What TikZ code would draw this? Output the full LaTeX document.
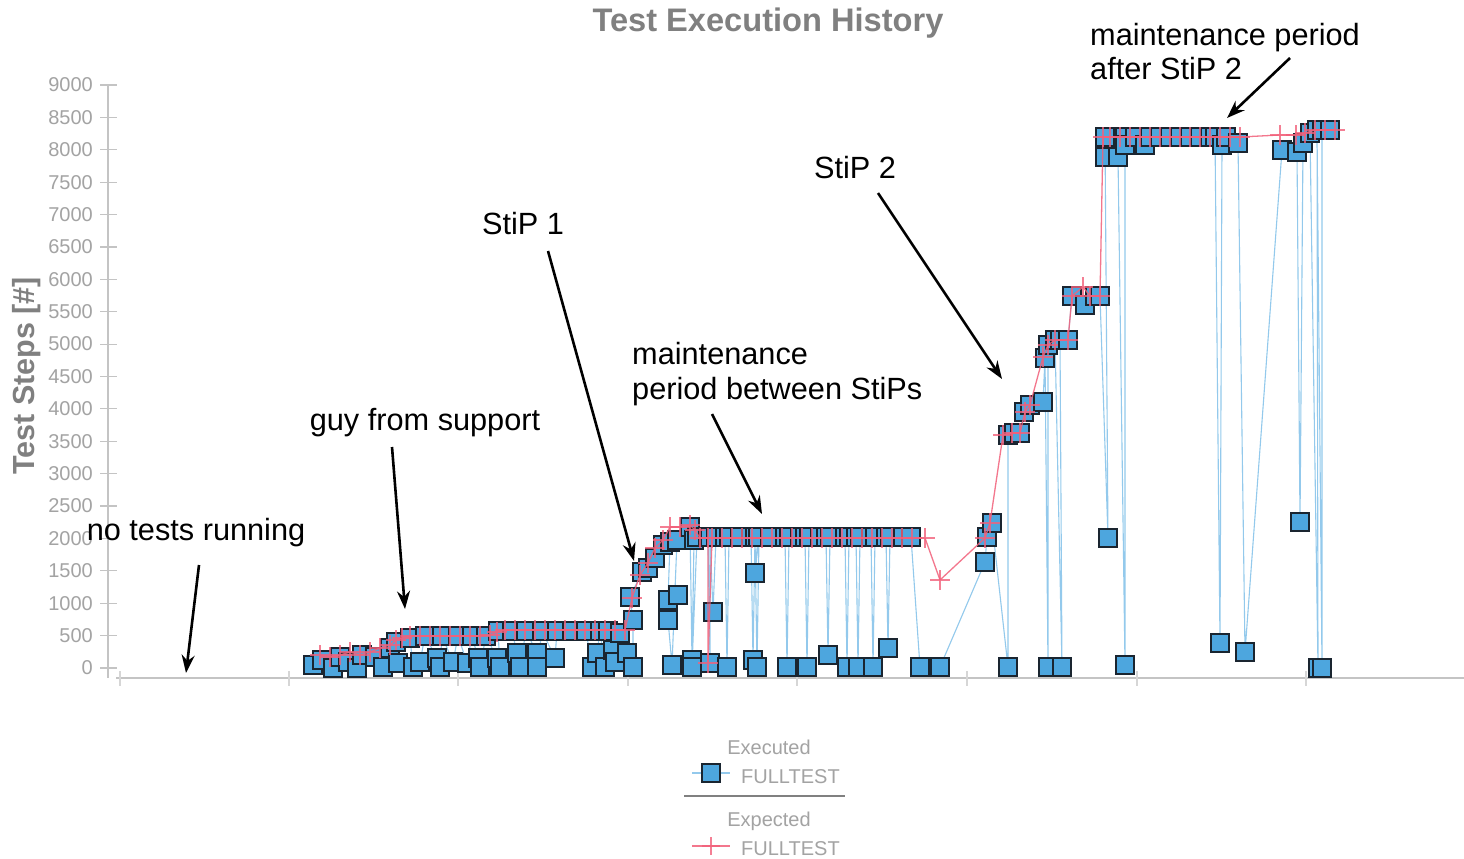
\documentclass[tikz,border=0pt]{standalone}
\usepackage{fontspec}
\setmainfont{Liberation Sans}
\usetikzlibrary{arrows.meta}
\definecolor{bfill}{HTML}{4DA6DE}
\definecolor{bdraw}{HTML}{1A2530}
\definecolor{bline}{HTML}{6FB8E6}
\definecolor{rline}{HTML}{F2607A}
\definecolor{axgray}{HTML}{C4C4C4}
\definecolor{txgray}{HTML}{A3A3A3}
\definecolor{ttgray}{HTML}{808080}
\def\execpts{313/665,322/660,333/668,340/657,348/662,357/668,362/655,375/657,383/667,390/648,398/663,396/642,410/638,413/667,420/662,425/636,437/658,440/667,442/636,453/662,458/636,467/663,472/636,478/658,480/667,486/636,497/658,500/667,498/631,512/631,517/653,520/667,526/631,537/653,537/667,542/631,555/658,557/631,572/631,586/631,592/667,597/653,600/631,605/667,608/631,613/650,615/662,620/633,627/653,633/667,633/620,630/597,642/572,648/568,655/558,663/545,670/542,668/600,678/595,668/620,672/665,677/540,690/527,692/660,694/540,692/667,697/537,708/537,710/663,710/537,713/612,716/537,725/537,727/667,729/537,740/537,751/537,753/660,755/537,757/667,759/537,755/573,758/537,770/537,785/537,787/667,789/537,800/537,805/537,807/667,809/537,820/537,826/537,828/655,830/537,845/537,847/667,849/537,856/537,858/667,860/537,871/537,873/667,875/537,886/537,888/648,890/537,903/537,911/537,920/667,940/667,985/562,987/537,992/523,1008/667,1008/435,1014/433,1020/433,1024/412,1030/405,1043/402,1045/358,1048/667,1048/345,1055/340,1062/667,1060/340,1068/340,1072/296,1085/305,1095/296,1100/296,1108/538,1105/137,1105/157,1118/157,1125/665,1125/137,1125/145,1135/137,1145/145,1150/137,1160/137,1170/137,1180/137,1190/137,1200/137,1210/137,1215/137,1220/643,1222/145,1226/137,1238/143,1245/652,1282/150,1297/152,1300/522,1303/143,1310/133,1318/668,1317/130,1322/668,1322/130,1330/130}
\def\exppts{320/655,330/657,340/655,350/652,360/655,370/652,380/648,390/645,396/640,402/638,410/636,420/636,430/636,440/636,450/636,460/636,470/636,480/636,490/635,497/632,505/630,515/630,525/630,535/630,545/630,555/630,565/630,575/630,585/630,595/630,605/630,615/630,625/630,632/598,640/575,648/563,655/548,663/540,670/527,680/527,690/525,695/530,700/538,708/538,708/663,712/538,722/538,732/538,742/538,752/538,762/538,772/538,782/538,792/538,802/538,812/538,822/538,832/538,842/538,852/538,862/538,872/538,882/538,892/538,902/538,912/538,925/538,940/580,985/538,990/523,1003/435,1012/433,1020/433,1025/412,1030/405,1043/357,1048/345,1055/340,1068/340,1072/296,1083/287,1090/296,1100/296,1103/137,1110/137,1120/137,1130/137,1140/137,1150/137,1160/137,1170/137,1180/137,1190/137,1200/137,1210/137,1220/137,1230/137,1240/137,1280/135,1296/135,1305/133,1315/130,1325/130,1335/130}
\begin{document}
\begin{tikzpicture}[x=1pt,y=-1pt,
  sq/.style={rectangle,draw=bdraw,fill=bfill,line width=1.6pt,minimum size=18.5pt,inner sep=0pt},
  bl/.style={draw=bline,line width=1.1pt,opacity=0.75},
  rl/.style={draw=rline,line width=1.3pt,opacity=0.85},
  rplus/.style={draw=rline,line width=2pt,opacity=0.8},
  ann/.style={-{Stealth[length=18pt,width=13pt]},line width=2.6pt,black},
  anntext/.style={font=\fontsize{30.7}{35}\selectfont,inner sep=0pt,align=left},
  ticklab/.style={font=\fontsize{20}{22}\selectfont,text=txgray,anchor=east,inner sep=0pt},
  legtext/.style={font=\fontsize{20}{22}\selectfont,text=txgray,inner sep=0pt}
]
\useasboundingbox (0,0) rectangle (1464,859);
\fill[white] (0,0) rectangle (1464,859);
% title
\node[font=\bfseries\fontsize{32.6}{35}\selectfont,text=ttgray] (title) at (768,23) {Test Execution History};
% y label
\node[font=\bfseries\fontsize{30.5}{33}\selectfont,text=ttgray,rotate=90] (ylab) at (27,376) {Test Steps [\#]};
% axes
\draw[axgray,line width=1.6pt] (108,85) -- (108,678);
\foreach \i in {0,...,18}{
  \pgfmathsetmacro\yy{668-\i*32.389}
  \pgfmathtruncatemacro\lab{\i*500}
  \draw[axgray,line width=1.2pt] (100,\yy) -- (117,\yy);
  \node[ticklab] (yt\i) at (93,\yy) {\lab};
}
\draw[axgray,line width=2pt] (116,678) -- (1464,678);
\foreach \xx in {120,289,458,628,797,967,1137,1306}{
  \draw[axgray!70,line width=1.2pt] (\xx,671) -- (\xx,686);
}
% executed line + markers
\draw[bl] (313,665) \foreach \x/\y in \execpts { -- (\x,\y) };
\foreach \x/\y in \execpts { \node[sq] at (\x,\y) {}; }
% expected line + markers
\draw[rl] (320,655) \foreach \x/\y in \exppts { -- (\x,\y) };
\foreach \x/\y in \exppts { \draw[rplus] (\x-10,\y) -- (\x+10,\y) (\x,\y-10) -- (\x,\y+10); }
% legend
\node[legtext] (lexec) at (769,747) {Executed};
\draw[bl] (692,773) -- (730,773);
\node[sq] (lsq) at (711,773) {};
\node[legtext,anchor=west] (lft1) at (741,777) {FULLTEST};
\draw[ttgray,line width=2.6pt] (684,796) -- (845,796);
\node[legtext] (lexp) at (769,821) {Expected};
\draw[rl] (692,846) -- (730,846);
\draw[rplus] (702,846) -- (720,846) (711,837) -- (711,855);
\node[legtext,anchor=west] (lft2) at (741,849) {FULLTEST};
% annotations
\node[anntext] (t1) at (196,533) {no tests running};
\node[anntext] (t2) at (425,423) {guy from support};
\node[anntext] (t3) at (523,224) {StiP 1};
\node[anntext,anchor=west] (t4) at (632,374) {maintenance\\period between StiPs};
\node[anntext,anchor=west,font=\fontsize{30.7}{34}\selectfont] (t6) at (1090,52) {maintenance period\\after StiP 2};
\node[anntext] (t5) at (855,168) {StiP 2};
\coordinate (a1s) at (199,565); \coordinate (a1e) at (186,673);
\coordinate (a2s) at (392,447); \coordinate (a2e) at (405,609);
\coordinate (a3s) at (548,251); \coordinate (a3e) at (634,561);
\coordinate (a4s) at (712,414); \coordinate (a4e) at (762,514);
\coordinate (a5s) at (878,193); \coordinate (a5e) at (1002,379);
\coordinate (a6s) at (1290,58); \coordinate (a6e) at (1227,118);
\draw[ann] (a1s) -- (a1e);
\draw[ann] (a2s) -- (a2e);
\draw[ann] (a3s) -- (a3e);
\draw[ann] (a4s) -- (a4e);
\draw[ann] (a5s) -- (a5e);
\draw[ann] (a6s) -- (a6e);
\end{tikzpicture}
\end{document}
